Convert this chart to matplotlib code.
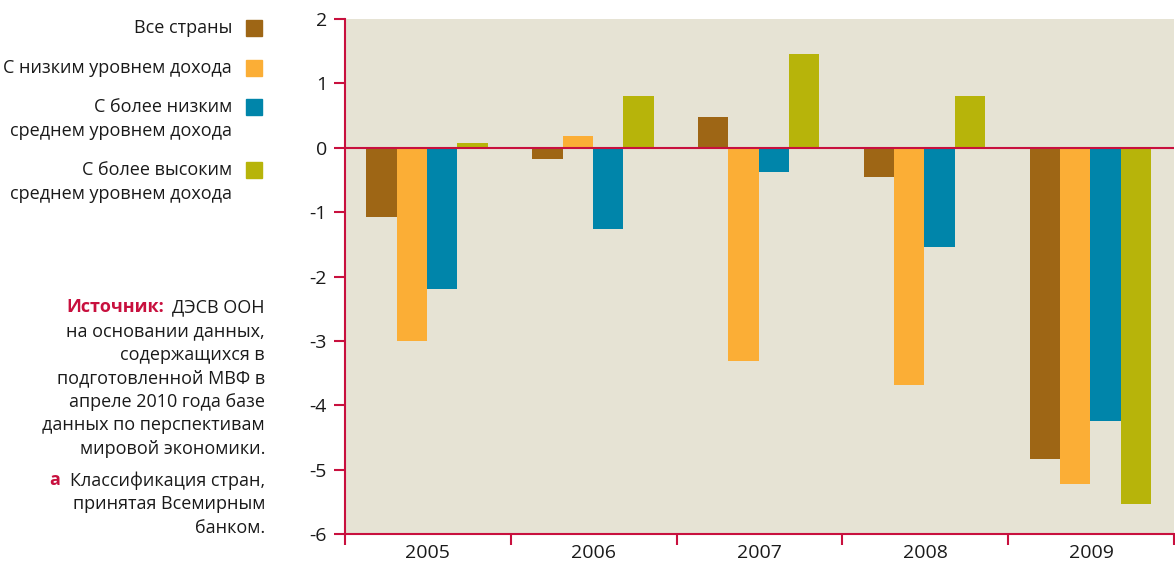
import matplotlib.pyplot as plt
from matplotlib.patches import Rectangle
import numpy as np

plt.rcParams["font.family"] = ["Open Sans", "DejaVu Sans"]

years = ["2005", "2006", "2007", "2008", "2009"]
series = ["Все страны",
          "С низким уровнем дохода",
          "С более низким\nсреднем уровнем дохода",
          "С более высоким\nсреднем уровнем дохода"]
all_countries = [-1.07, -0.17, 0.47, -0.45, -4.84]
low_income = [-3.0, 0.19, -3.31, -3.69, -5.22]
lower_middle = [-2.19, -1.26, -0.38, -1.54, -4.25]
upper_middle = [0.08, 0.81, 1.46, 0.81, -5.53]
colors = ["#9E6615", "#FBAE36", "#0085AA", "#B7B40A"]

red = "#C8103E"
bg = "#E6E3D4"
txt = "#1a1a1a"
fs = 13

fig = plt.figure(figsize=(11.75, 5.63), dpi=100)
ax = fig.add_axes([345 / 1175, 1 - 534 / 563, 829 / 1175, 515 / 563])
ax.set_facecolor(bg)

x = np.arange(len(years))
w = 0.183
values = [all_countries, low_income, lower_middle, upper_middle]
for i, (v, c) in enumerate(zip(values, colors)):
    ax.bar(x + (i - 1.5) * w - 0.005, v, w, color=c, linewidth=0, zorder=2)

ax.axhline(0, color=red, linewidth=1.5, zorder=3)
ax.set_xlim(-0.5, 4.5)
ax.set_ylim(-6, 2)
ax.set_yticks(range(-6, 3))
ax.set_yticklabels([str(t) for t in range(-6, 3)])
ax.set_xticks(np.arange(-0.5, 5, 1))
ax.set_xticklabels([])
ax.set_xticks(x, minor=True)
ax.set_xticklabels(years, minor=True)

for s in ["top", "right"]:
    ax.spines[s].set_visible(False)
for s in ["left", "bottom"]:
    ax.spines[s].set_color(red)
    ax.spines[s].set_linewidth(1.5)
ax.tick_params(axis="y", colors=red, labelcolor=txt, length=8, width=1.5,
               labelsize=14, pad=5)
ax.tick_params(axis="x", which="major", colors=red, length=8, width=1.5)
ax.tick_params(axis="x", which="minor", length=0, labelcolor=txt,
               labelsize=14, pad=7)

# легенда
W, H = 1175, 563
sq_top = [20, 60, 99, 162]
for label, c, yy in zip(series, colors, sq_top):
    fig.text(232 / W, 1 - (yy - 1) / H, label, ha="right", va="top", fontsize=fs,
             color=txt, linespacing=1.45, transform=fig.transFigure)
    fig.patches.append(Rectangle((246 / W, 1 - (yy + 16) / H), 16 / W, 16 / H,
                                 transform=fig.transFigure, color=c))

# источник
src_lines = ["на основании данных,", "содержащихся в",
             "подготовленной МВФ в", "апреле 2010 года базе",
             "данных по перспективам", "мировой экономики."]
fig.text(265 / W, 1 - 298 / H, "ДЭСВ ООН", ha="right", va="top",
         fontsize=fs, color=txt)
fig.text(164 / W, 1 - 298 / H, "Источник:", ha="right", va="top",
         fontsize=fs, color=red, fontweight="bold")
fig.text(265 / W, 1 - 322 / H, "\n".join(src_lines), ha="right", va="top",
         fontsize=fs, color=txt, linespacing=1.4)
fig.text(265 / W, 1 - 471 / H, "Классификация стран,\nпринятая Всемирным\nбанком.",
         ha="right", va="top", fontsize=fs, color=txt, linespacing=1.4)
fig.text(60 / W, 1 - 471 / H, "а", ha="right", va="top",
         fontsize=fs, color=red, fontweight="bold")

fig.savefig("out.png", dpi=100, facecolor="white")
